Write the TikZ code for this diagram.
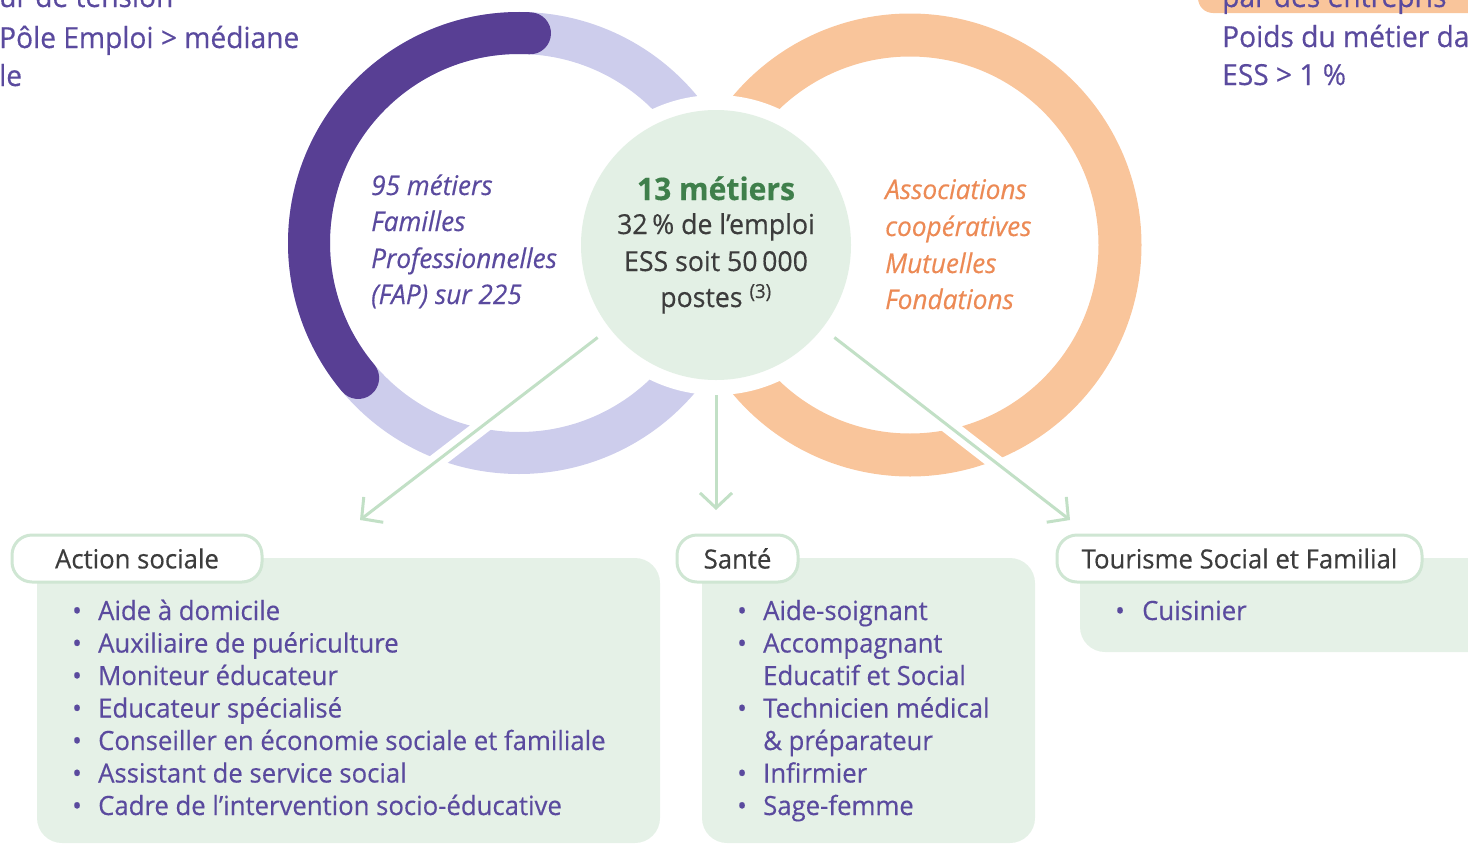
\documentclass[tikz,border=0pt]{standalone}
\usepackage{fontspec}
\setmainfont{Open Sans}[FakeStretch=0.97, FakeBold=0.4]
\usetikzlibrary{arrows.meta,positioning}

\definecolor{purpledark}{HTML}{583F94}
\definecolor{purplelight}{HTML}{CDCDEC}
\definecolor{orangering}{HTML}{F9C59B}
\definecolor{txtpurple}{HTML}{5A4A9E}
\definecolor{txtorange}{HTML}{EC8A55}
\definecolor{titlegreen}{HTML}{3F7F4B}
\definecolor{txtgray}{HTML}{3C3C3C}
\definecolor{ctrgreen}{HTML}{E3F0E5}
\definecolor{boxgreen}{HTML}{E5F1E7}
\definecolor{arrowgreen}{HTML}{C2E0C6}
\definecolor{pillline}{HTML}{CFE6D3}

\tikzset{ringtxt/.style={anchor=base west, inner sep=0, font=\fontsize{27}{36}\selectfont\itshape}}
\tikzset{ctrtxt/.style={anchor=base, inner sep=0, text=txtgray, font=\fontsize{27.5}{36}\selectfont}}
\tikzset{toptxt/.style={anchor=base west, inner sep=0, text=txtpurple, font=\fontsize{29}{38}\selectfont}}
\tikzset{listitem/.style={anchor=base west, inner sep=0, text=txtpurple, font=\fontsize{26.5}{32}\selectfont}}
\tikzset{pillbox/.style={draw=pillline, line width=3pt, fill=white, rounded corners=20pt, inner sep=0,
  minimum height=47, text=txtgray, font=\fontsize{26.5}{30}\selectfont}}
\tikzset{bodybox/.style={fill=boxgreen, rounded corners=25pt, inner sep=0}}
\tikzset{linkarrow/.style={draw=arrowgreen, line width=3pt, -{Straight Barb[length=15pt,width=32pt]}}}
\tikzset{linkhalo/.style={draw=white, line width=16pt}}

\begin{document}
\begin{tikzpicture}[x=1pt,y=-1pt]
  \useasboundingbox (0,0) rectangle (1468,844);
  \clip (0,0) rectangle (1468,844);

  % the two rings
  \draw[purplelight, line width=42pt] (519,243) circle[radius=210];
  \draw[purpledark, line width=42pt, line cap=round] (519,243) ++(-87:210) arc[start angle=-87, end angle=-220, radius=210];
  \draw[orangering, line width=43pt] (910,245) circle[radius=210];

  % centre
  \node[circle, fill=white, minimum size=300, inner sep=0] (halo) at (716,245) {};
  \node[circle, fill=ctrgreen, minimum size=270, inner sep=0] (ctr) at (716,245) {};
  \node[anchor=base, inner sep=0, text=titlegreen, font=\fontsize{31}{36}\selectfont\bfseries] (ctrtitle) at (716,200) {13 métiers};
  \node[ctrtxt] (ctrl1) at (716,234) {32\,\% de l’emploi};
  \node[ctrtxt] (ctrl2) at (716,271) {ESS soit 50\,000};
  \node[ctrtxt] (ctrl3) at (716,307) {postes \textsuperscript{(3)}};

  \foreach \txt/\yy [count=\i] in {95 métiers/195, Familles/231, Professionnelles/268, (FAP) sur 225/304}
    \node[ringtxt, text=txtpurple] (fap\i) at (371,\yy) {\txt};
  \foreach \txt/\yy [count=\i] in {Associations/199, coopératives/236, Mutuelles/273, Fondations/309}
    \node[ringtxt, text=txtorange] (ess\i) at (885,\yy) {\txt};

  % cut texts on top
  \node[toptxt] (tl1) at (-1,7) {ur de tension};
  \node[toptxt] (tl2) at (-1,48) {Pôle Emploi > médiane};
  \node[toptxt] (tl3) at (-1,86) {le};
  \fill[orangering, rounded corners=15pt] (1198,-40) rectangle (1500,13);
  \node[toptxt] (tr1) at (1222,7) {par des entrepris};
  \node[toptxt] (tr2) at (1222,47) {Poids du métier da};
  \node[toptxt] (tr3) at (1222,85) {ESS > 1 \%};

  % arrows
  \coordinate (actin) at (360,520);
  \coordinate (santin) at (716,510);
  \coordinate (tourin) at (1070,520);
  \draw[linkhalo] (halo.218) -- (actin);
  \draw[linkhalo] (halo.-38) -- (tourin);
  \draw[linkarrow] (halo.218) -- (actin);
  \draw[linkarrow] (halo.south) -- (santin);
  \draw[linkarrow] (halo.-38) -- (tourin);

  % boxes
  \node[bodybox, minimum width=623, minimum height=285] (actbody) at (348.5,700.5) {};
  \node[bodybox, minimum width=333, minimum height=285] (santbody) at (868.5,700.5) {};
  \node[bodybox, minimum width=420, minimum height=94] (tourbody) at (1290,605) {};
  \node[pillbox, minimum width=250] (actpill) at (137,558.5) {Action sociale};
  \node[pillbox, minimum width=121] (santpill) at (737.5,558.5) {Santé};
  \node[pillbox, minimum width=365] (tourpill) at (1239.5,558.5) {Tourisme Social et Familial};

  \foreach \txt [count=\i] in {Aide à domicile, Auxiliaire de puériculture, Moniteur éducateur,
      Educateur spécialisé, Conseiller en économie sociale et familiale, Assistant de service social,
      Cadre de l’intervention socio-éducative}{
    \node[listitem] (actb\i) at (72,{587.5+32.5*\i}) {•};
    \node[listitem] (act\i) at (98,{587.5+32.5*\i}) {\txt};
  }
  \foreach \txt/\b [count=\i] in {Aide-soignant/1, Accompagnant/1, Educatif et Social/0,
      Technicien médical/1, \& préparateur/0, Infirmier/1, Sage-femme/1}{
    \ifnum\b=1 \node[listitem] (santb\i) at (737,{587.5+32.5*\i}) {•}; \fi
    \node[listitem] (sant\i) at (763,{587.5+32.5*\i}) {\txt};
  }
  \node[listitem] (tourb1) at (1115,620) {•};
  \node[listitem] (tour1) at (1142,620) {Cuisinier};
\end{tikzpicture}
\end{document}
